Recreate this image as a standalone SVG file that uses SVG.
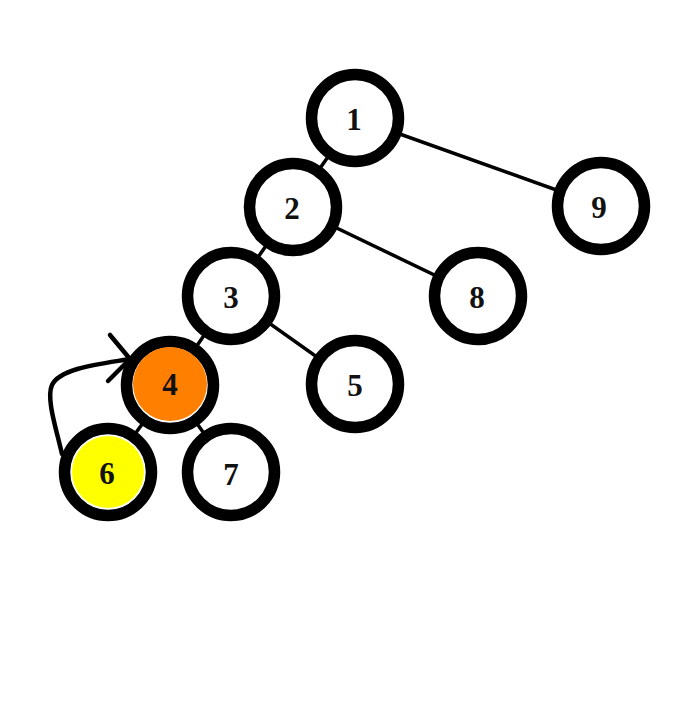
<svg xmlns="http://www.w3.org/2000/svg" width="693" height="703" viewBox="0 0 693 703">
<style>
.edge{stroke:#000;stroke-width:3.5;fill:none}
.ring{stroke:#000;stroke-width:11.5;fill:#fff}
.lbl{font-family:"Liberation Serif",serif;font-weight:bold;font-size:31px;text-anchor:middle;dominant-baseline:central;fill:#111}
</style>
<rect width="693" height="703" fill="#fff"/>
<g id="connectors">
<line class="edge" x1="355" y1="118" x2="293" y2="207"/>
<line class="edge" x1="355" y1="118" x2="601" y2="206"/>
<line class="edge" x1="293" y1="207" x2="231" y2="296"/>
<line class="edge" x1="293" y1="207" x2="478" y2="296"/>
<line class="edge" x1="231" y1="296" x2="170" y2="385"/>
<line class="edge" x1="231" y1="296" x2="355" y2="384"/>
<line class="edge" x1="170" y1="385" x2="108" y2="472"/>
<line class="edge" x1="170" y1="385" x2="231" y2="472"/>
</g>
<g id="n1"><circle class="ring" cx="355" cy="118" r="43.5"/><text class="lbl" x="354" y="119">1</text></g>
<g id="n2"><circle class="ring" cx="293" cy="207" r="43.5"/><text class="lbl" x="292" y="208">2</text></g>
<g id="n9"><circle class="ring" cx="601" cy="206" r="43.5"/><text class="lbl" x="599" y="207">9</text></g>
<g id="n3"><circle class="ring" cx="231" cy="296" r="43.5"/><text class="lbl" x="231" y="297">3</text></g>
<g id="n8"><circle class="ring" cx="478" cy="296" r="43.5"/><text class="lbl" x="477" y="297">8</text></g>
<g id="n4"><circle class="ring" cx="170" cy="385" r="43.5"/><circle cx="170" cy="384" r="37" fill="#ff7f00"/><text class="lbl" x="170" y="384">4</text></g>
<g id="n5"><circle class="ring" cx="355" cy="384" r="43.5"/><text class="lbl" x="355" y="385">5</text></g>
<g id="n6"><circle class="ring" cx="108" cy="472" r="43.5"/><circle cx="108" cy="472" r="36" fill="#ffff00"/><text class="lbl" x="107" y="473">6</text></g>
<g id="n7"><circle class="ring" cx="231" cy="472" r="43.5"/><text class="lbl" x="231" y="474">7</text></g>
<g id="arrow">
<path d="M62 454 C56 428 46 398 52 385 C60 368 100 364 130 359" stroke="#000" stroke-width="4.5" fill="none" stroke-linecap="round"/>
<path d="M110 335 L130 359 L108 381" stroke="#000" stroke-width="4.5" fill="none" stroke-linecap="round" stroke-linejoin="round"/>
</g>
</svg>
